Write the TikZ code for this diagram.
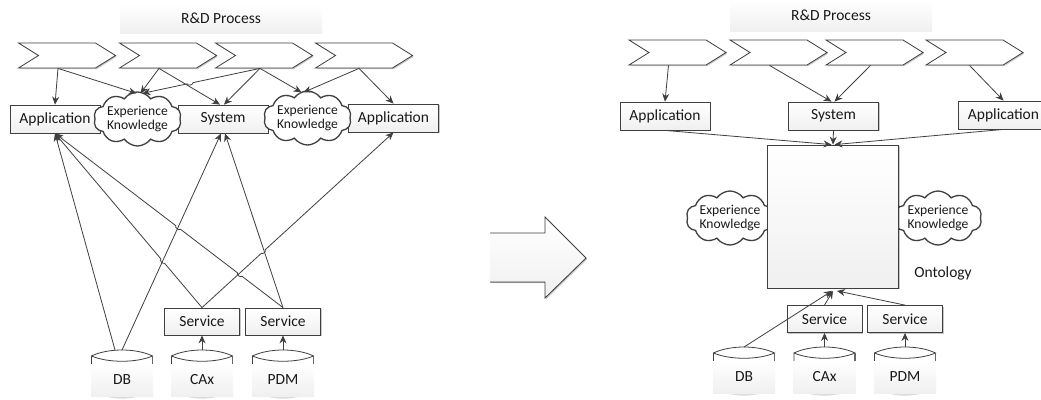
\documentclass[tikz,border=0pt]{standalone}
\usepackage{fontspec}
\setmainfont{Carlito}
\usetikzlibrary{shapes.symbols,shadows,calc,arrows.meta}
\definecolor{ink}{HTML}{3F3F3F}
\newcommand{\fsz}[1]{\fontsize{#1}{#1}\selectfont}
\tikzset{
  softshadow/.style={drop shadow={shadow xshift=1.2pt,shadow yshift=-1.2pt,fill=black,opacity=.22}},
  grad/.style={top color=white,bottom color=black!6},
  box/.style={draw=ink,line width=.8pt,grad,softshadow,minimum width=90pt,minimum height=28pt,inner sep=0pt,text=black!90,font=\fsz{15.5}},
  svc/.style={draw=ink,line width=.8pt,grad,softshadow,minimum width=75pt,minimum height=27pt,inner sep=0pt,text=black!90,font=\fsz{15.5}},
  banner/.style={grad,minimum width=202pt,minimum height=28pt,inner sep=0pt,text=black!90,font=\fsz{15.5}},
  chev/.style={signal,signal from=west,signal to=east,signal pointer angle=64,draw=ink,line width=.8pt,fill=white,softshadow,minimum width=97pt,minimum height=25pt,inner sep=0pt},
  puff/.style={cloud,cloud puffs=10,cloud puff arc=110,cloud ignores aspect,draw=ink,line width=1.3pt,fill=white,minimum width=82pt,minimum height=54pt,inner sep=0pt,align=center,text=black!90,font=\fsz{13.6}},
  conn/.style={draw=ink,line width=.8pt,-{Stealth[length=8pt,width=7pt]}},
  drum/.style={grad,minimum width=62pt,minimum height=32pt,inner sep=0pt,text=black!90,font=\fsz{15.5}},
  hop/.style={bend left=85},
}
\newcommand{\drumat}[3]{%
  \fill[black!14] (#2-18,#3+17) .. controls (#2-8,#3+20.5) and (#2+8,#3+20.5) .. (#2+18,#3+17) -- cycle;
  \draw[draw=ink,line width=.8pt] (#2-30.5,#3-23) .. controls (#2-14,#3-31) and (#2+14,#3-31) .. (#2+30.5,#3-23)
     .. controls (#2+14,#3-16) and (#2-14,#3-16) .. (#2-30.5,#3-23) -- (#2-30.5,#3-15);
  \draw[draw=black!60,line width=1.1pt] (#2+30.5,#3-23) -- (#2+30.5,#3-15);
  \node[drum] (#1) at (#2,#3+1) {#1};
  \coordinate (#1top) at (#2,#3-29);
}
\begin{document}
\begin{tikzpicture}[x=1pt,y=-1pt]
\useasboundingbox (0,0) rectangle (1041,399);
\clip (0,0) rectangle (1041,399);
\fill[white] (0,0) rectangle (1041,399);
%%% left panel
\node[banner] (rd1) at (221,19) {\raisebox{2pt}{R\&D Process}};
\node[chev] (a1) at (67,55.5) {};
\node[chev] (a2) at (168,55.5) {};
\node[chev] (a3) at (264,55.5) {};
\node[chev] (a4) at (364,55.5) {};
\node[box] (app1) at (55,119) {Application};
\node[box] (sys1) at (223,119) {System};
\node[box] (app2) at (393.5,118) {Application};
\node[puff] (k1) at (137.5,119) {Experience\\Knowledge};
\node[puff] (k2) at (307.5,118) {Experience\\Knowledge};
\node[svc] (s1) at (202,321.5) {Service};
\node[svc] (s2) at (283,321.5) {Service};
\drumat{DB}{122}{379}
\drumat{CAx}{202}{379}
\drumat{PDM}{283}{379}
\path[conn] ([xshift=-9pt]a1.south) -- (app1.north);
\path[conn] ([xshift=-9pt]a1.south) -- ([xshift=-1pt,yshift=-2pt]k1.north);
\path[conn] ([xshift=-9pt]a2.south) -- ([xshift=3pt,yshift=-2pt]k1.north);
\path[conn] ([xshift=-9pt]a2.south) -- ([xshift=-3pt]sys1.north);
\path[conn] ([xshift=-4pt]a3.south) -- ($([xshift=-4pt]a3.south)!.57!([xshift=5pt,yshift=-2pt]k1.north)$) to[hop] ($([xshift=-4pt]a3.south)!.62!([xshift=5pt,yshift=-2pt]k1.north)$) -- ([xshift=5pt,yshift=-2pt]k1.north);
\path[conn] ([xshift=-4pt]a3.south) -- ([xshift=1pt]sys1.north);
\path[conn] ([xshift=-4pt]a3.south) -- ([xshift=-6pt,yshift=-2pt]k2.north);
\path[conn] ([xshift=-5pt]a4.south) -- ([xshift=-4pt,yshift=-2pt]k2.north);
\path[conn] ([xshift=-5pt]a4.south) -- (app2.north);
\path[conn] ([xshift=-7pt]DBtop) -- (app1.south);
\path[conn] ([xshift=0pt]DBtop) -- ([xshift=-2pt]sys1.south);
\path[conn] (s1.north) -- ($(s1.north)!.255!(app1.south)$) to[hop] ($(s1.north)!.28!(app1.south)$) -- (app1.south);
\path[conn] (s2.north) -- ($(s2.north)!.18!(app1.south)$) to[hop] ($(s2.north)!.2!(app1.south)$) -- ($(s2.north)!.45!(app1.south)$) to[hop] ($(s2.north)!.47!(app1.south)$) -- (app1.south);
\path[conn] (s1.north) -- ($(s1.north)!.31!(app2.south)$) to[bend right=85] ($(s1.north)!.33!(app2.south)$) -- (app2.south);
\path[conn] (s2.north) -- ([xshift=2pt]sys1.south);
\path[conn] (CAxtop) -- (s1.south);
\path[conn] (PDMtop) -- (s2.south);
%%% block arrow
\fill[grad,softshadow] (490,233) -- (545,233) -- (545,217) -- (586,258) -- (545,298) -- (545,282) -- (490,282) -- cycle;
\draw[draw=ink,line width=.8pt] (490,233) -- (545,233) -- (545,217) -- (586,258) -- (545,298) -- (545,282) -- (490,282);
%%% right panel
\node[banner,minimum height=31pt] (rd2) at (831,15.5) {R\&D Process};
\node[chev] (b1) at (677.5,52.5) {};
\node[chev] (b2) at (778.5,52.5) {};
\node[chev] (b3) at (874.5,52.5) {};
\node[chev] (b4) at (974.5,52.5) {};
\node[box] (app3) at (665,116) {Application};
\node[box] (sys2) at (833.5,116) {System};
\node[box] (app4) at (1003.5,115) {Application};
\node[puff] (k3) at (730,218) {Experience\\Knowledge};
\node[puff] (k4) at (938,218) {Experience\\Knowledge};
\node[box,minimum width=131pt,minimum height=143pt] (onto) at (833,216.5) {};
\node[text=black!90,font=\fsz{15.5},inner sep=0pt] (ontolabel) at (943,273) {Ontology};
\node[svc] (s3) at (824.5,319) {Service};
\node[svc] (s4) at (905,319) {Service};
\drumat{DB}{744}{376}
\drumat{CAx}{824.5}{376}
\drumat{PDM}{905}{376}
\path[conn] ([xshift=-9pt]b1.south) -- (app3.north);
\path[conn] ([xshift=-9pt]b2.south) -- ([xshift=-2pt]sys2.north);
\path[conn] ([xshift=-4pt]b3.south) -- ([xshift=1pt]sys2.north);
\path[conn] ([xshift=-5pt]b4.south) -- (app4.north);
\path[conn] (app3.south) -- ([xshift=-1.5pt]onto.north);
\path[conn] (sys2.south) -- (onto.north);
\path[conn] (app4.south) -- ([xshift=1.5pt]onto.north);
\path[conn] (DBtop) -- ([xshift=-1pt,yshift=-2.5pt]onto.south);
\path[conn] (s3.north) -- ([yshift=-2.5pt]onto.south);
\path[conn] (s4.north) -- ([xshift=4pt,yshift=-2.5pt]onto.south);
\path[conn] (CAxtop) -- (s3.south);
\path[conn] (PDMtop) -- (s4.south);
\end{tikzpicture}
\end{document}
